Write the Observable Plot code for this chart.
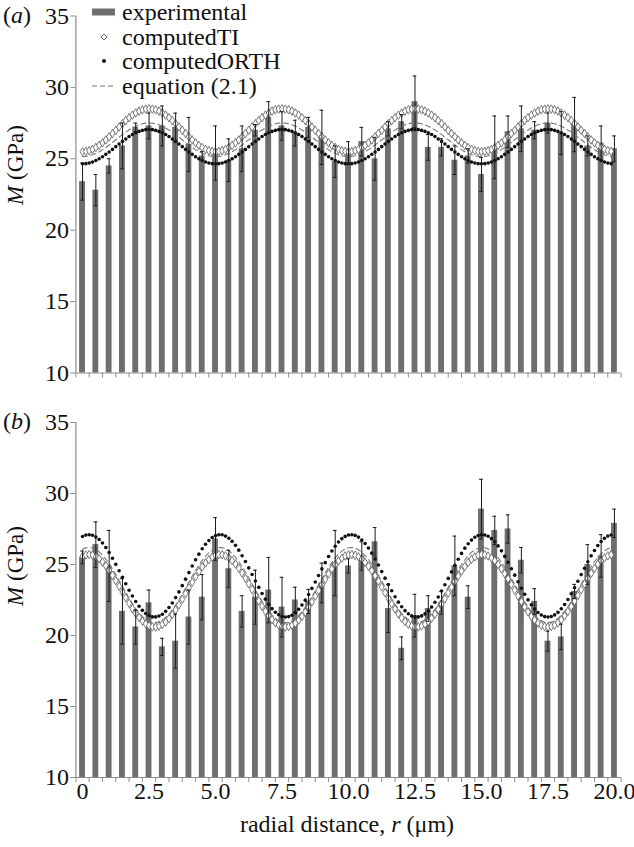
<!DOCTYPE html>
<html>
<head>
<meta charset="utf-8">
<script src="https://cdn.jsdelivr.net/npm/d3@7"></script>
<script src="https://cdn.jsdelivr.net/npm/@observablehq/plot@0.6"></script>
<style>
  body { margin: 0; background: #fff; }
  #fig { position: relative; width: 634px; height: 847px; font-family: "Liberation Serif", "Times New Roman", serif; color: #111; overflow: hidden; }
  .abs { position: absolute; white-space: nowrap; }
  .ylab { width: 140px; text-align: center; font-size: 23px; line-height: 24px; transform: rotate(-90deg); }
  .leg { font-size: 24px; line-height: 24.5px; }
  .leg .row { display: flex; align-items: center; height: 24.5px; }
  .leg svg { width: 30px; height: 14px; margin-right: 4px; }
</style>
</head>
<body>
<div id="fig">
  <div id="pa" class="abs" style="left:0;top:0"></div>
  <div id="pb" class="abs" style="left:0;top:390px"></div>
  <div class="abs" style="left:3px;top:2px;font-size:24px;line-height:26px">(<i>a</i>)</div>
  <div class="abs" style="left:3px;top:408px;font-size:24px;line-height:26px">(<i>b</i>)</div>
  <div class="abs ylab" style="left:-54px;top:153px"><i>M</i> (GPa)</div>
  <div class="abs ylab" style="left:-54px;top:554px"><i>M</i> (GPa)</div>
  <div class="abs" style="left:0;width:694px;top:810px;text-align:center;font-size:24px;line-height:28px">radial distance, <i>r</i> (μm)</div>
  <div class="abs leg" style="left:88px;top:0px">
    <div class="row"><svg viewBox="0 0 30 14"><rect x="4" y="3.5" width="23" height="7" fill="#6e6e6e"/></svg><span>experimental</span></div>
    <div class="row"><svg viewBox="0 0 30 14"><path d="M16 4 L19 7 L16 10 L13 7 Z" fill="white" stroke="#555" stroke-width="0.9"/></svg><span>computedTI</span></div>
    <div class="row"><svg viewBox="0 0 30 14"><circle cx="16" cy="7" r="2" fill="#111"/></svg><span>computedORTH</span></div>
    <div class="row"><svg viewBox="0 0 30 14"><line x1="4" y1="7" x2="27" y2="7" stroke="#777" stroke-width="1.2" stroke-dasharray="5,3"/></svg><span>equation (2.1)</span></div>
  </div>
</div>
<script>
// ---------- data ----------
const rBars = [0,0.5,1,1.5,2,2.5,3,3.5,4,4.5,5,5.5,6,6.5,7,7.5,8,8.5,9,9.5,10,10.5,11,11.5,12,12.5,13,13.5,14,14.5,15,15.5,16,16.5,17,17.5,18,18.5,19,19.5,20];

// panel (a) experimental mean and error
const expA = [23.4,22.8,24.5,25.9,27.2,27.3,27.3,27.2,26.0,25.2,25.4,24.9,25.7,27.0,27.9,27.3,26.8,27.2,26.5,24.8,25.4,26.2,25.0,27.1,27.6,29.0,25.8,25.8,24.9,25.2,23.9,25.8,26.9,27.1,27.0,27.5,26.8,27.4,25.9,26.1,25.7];
const errA = [1.3,1.1,0.5,1.6,0.3,0.9,1.4,1.0,1.9,0.3,1.9,1.5,1.6,0.4,1.1,1.0,0.9,0.7,1.9,1.1,0.8,1.0,1.5,0.5,0.5,1.8,0.9,0.6,1.0,0.5,1.2,2.2,1.1,1.6,0.6,0.7,1.5,1.9,0.7,1.2,0.9];

// panel (b) experimental mean and error
const expB = [25.5,26.4,24.9,21.7,20.6,22.3,19.2,19.6,21.3,22.7,26.8,24.7,21.7,22.7,23.2,22.0,22.5,22.4,23.7,25.1,24.9,25.6,26.6,21.9,19.1,21.4,21.9,22.3,24.9,22.7,28.9,27.4,27.5,25.3,22.4,19.6,19.9,23.1,25.0,25.6,27.9];
const errB = [0.45,1.6,2.5,2.3,1.2,0.9,0.6,1.9,1.9,1.6,1.5,1.3,1.1,1.9,2.3,2.1,0.9,0.85,1.4,2.3,0.5,1.0,1.0,1.7,0.8,1.5,0.9,0.8,2.1,0.8,2.1,1.0,1.0,0.9,0.9,0.7,0.9,0.5,1.4,1.5,1.0];

// curve sample positions (µm)
const rCurve = [0,0.125,0.25,0.375,0.5,0.625,0.75,0.875,1,1.125,1.25,1.375,1.5,1.625,1.75,1.875,2,2.125,2.25,2.375,2.5,2.625,2.75,2.875,3,3.125,3.25,3.375,3.5,3.625,3.75,3.875,4,4.125,4.25,4.375,4.5,4.625,4.75,4.875,
  5,5.125,5.25,5.375,5.5,5.625,5.75,5.875,6,6.125,6.25,6.375,6.5,6.625,6.75,6.875,7,7.125,7.25,7.375,7.5,7.625,7.75,7.875,8,8.125,8.25,8.375,8.5,8.625,8.75,8.875,9,9.125,9.25,9.375,9.5,9.625,9.75,9.875,
  10,10.125,10.25,10.375,10.5,10.625,10.75,10.875,11,11.125,11.25,11.375,11.5,11.625,11.75,11.875,12,12.125,12.25,12.375,12.5,12.625,12.75,12.875,13,13.125,13.25,13.375,13.5,13.625,13.75,13.875,14,14.125,14.25,14.375,14.5,14.625,14.75,14.875,
  15,15.125,15.25,15.375,15.5,15.625,15.75,15.875,16,16.125,16.25,16.375,16.5,16.625,16.75,16.875,17,17.125,17.25,17.375,17.5,17.625,17.75,17.875,18,18.125,18.25,18.375,18.5,18.625,18.75,18.875,19,19.125,19.25,19.375,19.5,19.625,19.75,19.875];

// panel (a) computed curves
const tiA = [25.50,25.52,25.57,25.66,25.79,25.94,26.12,26.32,26.54,26.77,27.00,27.23,27.46,27.68,27.88,28.06,28.21,28.34,28.43,28.48,28.50,28.48,28.43,28.34,28.21,28.06,27.88,27.68,27.46,27.23,27.00,26.77,26.54,26.32,26.12,25.94,25.79,25.66,25.57,25.52,
  25.50,25.52,25.57,25.66,25.79,25.94,26.12,26.32,26.54,26.77,27.00,27.23,27.46,27.68,27.88,28.06,28.21,28.34,28.43,28.48,28.50,28.48,28.43,28.34,28.21,28.06,27.88,27.68,27.46,27.23,27.00,26.77,26.54,26.32,26.12,25.94,25.79,25.66,25.57,25.52,
  25.50,25.52,25.57,25.66,25.79,25.94,26.12,26.32,26.54,26.77,27.00,27.23,27.46,27.68,27.88,28.06,28.21,28.34,28.43,28.48,28.50,28.48,28.43,28.34,28.21,28.06,27.88,27.68,27.46,27.23,27.00,26.77,26.54,26.32,26.12,25.94,25.79,25.66,25.57,25.52,
  25.50,25.52,25.57,25.66,25.79,25.94,26.12,26.32,26.54,26.77,27.00,27.23,27.46,27.68,27.88,28.06,28.21,28.34,28.43,28.48,28.50,28.48,28.43,28.34,28.21,28.06,27.88,27.68,27.46,27.23,27.00,26.77,26.54,26.32,26.12,25.94,25.79,25.66,25.57,25.52];
const orthA = [24.65,24.66,24.71,24.78,24.88,25.00,25.14,25.31,25.48,25.66,25.85,26.04,26.22,26.39,26.56,26.70,26.82,26.92,26.99,27.04,27.05,27.04,26.99,26.92,26.82,26.70,26.56,26.39,26.22,26.04,25.85,25.66,25.48,25.31,25.14,25.00,24.88,24.78,24.71,24.66,
  24.65,24.66,24.71,24.78,24.88,25.00,25.14,25.31,25.48,25.66,25.85,26.04,26.22,26.39,26.56,26.70,26.82,26.92,26.99,27.04,27.05,27.04,26.99,26.92,26.82,26.70,26.56,26.39,26.22,26.04,25.85,25.66,25.48,25.31,25.14,25.00,24.88,24.78,24.71,24.66,
  24.65,24.66,24.71,24.78,24.88,25.00,25.14,25.31,25.48,25.66,25.85,26.04,26.22,26.39,26.56,26.70,26.82,26.92,26.99,27.04,27.05,27.04,26.99,26.92,26.82,26.70,26.56,26.39,26.22,26.04,25.85,25.66,25.48,25.31,25.14,25.00,24.88,24.78,24.71,24.66,
  24.65,24.66,24.71,24.78,24.88,25.00,25.14,25.31,25.48,25.66,25.85,26.04,26.22,26.39,26.56,26.70,26.82,26.92,26.99,27.04,27.05,27.04,26.99,26.92,26.82,26.70,26.56,26.39,26.22,26.04,25.85,25.66,25.48,25.31,25.14,25.00,24.88,24.78,24.71,24.66];
const eqA = [25.15,25.16,25.21,25.28,25.38,25.50,25.64,25.79,25.97,26.15,26.33,26.51,26.69,26.87,27.02,27.16,27.28,27.38,27.45,27.50,27.51,27.50,27.45,27.38,27.28,27.16,27.02,26.87,26.69,26.51,26.33,26.15,25.97,25.79,25.64,25.50,25.38,25.28,25.21,25.16,
  25.15,25.16,25.21,25.28,25.38,25.50,25.64,25.79,25.97,26.15,26.33,26.51,26.69,26.87,27.02,27.16,27.28,27.38,27.45,27.50,27.51,27.50,27.45,27.38,27.28,27.16,27.02,26.87,26.69,26.51,26.33,26.15,25.97,25.79,25.64,25.50,25.38,25.28,25.21,25.16,
  25.15,25.16,25.21,25.28,25.38,25.50,25.64,25.79,25.97,26.15,26.33,26.51,26.69,26.87,27.02,27.16,27.28,27.38,27.45,27.50,27.51,27.50,27.45,27.38,27.28,27.16,27.02,26.87,26.69,26.51,26.33,26.15,25.97,25.79,25.64,25.50,25.38,25.28,25.21,25.16,
  25.15,25.16,25.21,25.28,25.38,25.50,25.64,25.79,25.97,26.15,26.33,26.51,26.69,26.87,27.02,27.16,27.28,27.38,27.45,27.50,27.51,27.50,27.45,27.38,27.28,27.16,27.02,26.87,26.69,26.51,26.33,26.15,25.97,25.79,25.64,25.50,25.38,25.28,25.21,25.16];

// panel (b) computed curves
const orthB = [26.97,27.07,27.10,27.06,26.94,26.76,26.51,26.20,25.84,25.44,25.01,24.56,24.10,23.64,23.19,22.78,22.39,22.06,21.77,21.55,21.40,21.31,21.31,21.37,21.50,21.70,21.97,22.29,22.67,23.07,23.51,23.97,24.43,24.89,25.33,25.73,26.11,26.43,26.69,26.90,
  27.03,27.09,27.09,27.00,26.85,26.63,26.35,26.01,25.62,25.21,24.76,24.30,23.84,23.39,22.96,22.56,22.20,21.89,21.64,21.46,21.34,21.30,21.33,21.43,21.61,21.85,22.15,22.49,22.89,23.32,23.77,24.23,24.69,25.13,25.56,25.95,26.29,26.58,26.82,26.98,
  27.08,27.10,27.05,26.93,26.73,26.48,26.16,25.80,25.39,24.96,24.50,24.04,23.59,23.15,22.73,22.35,22.02,21.75,21.53,21.38,21.31,21.31,21.38,21.52,21.73,22.01,22.34,22.71,23.13,23.57,24.02,24.48,24.94,25.37,25.78,26.15,26.46,26.72,26.92,27.04,
  27.10,27.08,26.99,26.82,26.60,26.31,25.96,25.57,25.15,24.70,24.25,23.79,23.33,22.91,22.51,22.16,21.86,21.62,21.44,21.33,21.30,21.34,21.45,21.63,21.88,22.18,22.54,22.94,23.37,23.82,24.29,24.74,25.19,25.61,25.99,26.33,26.62,26.84,27.00,27.08];
const tiB = [25.58,25.67,25.70,25.66,25.56,25.40,25.18,24.91,24.59,24.24,23.86,23.47,23.06,22.66,22.27,21.90,21.56,21.27,21.02,20.82,20.69,20.61,20.60,20.66,20.78,20.95,21.19,21.47,21.80,22.16,22.55,22.95,23.35,23.75,24.14,24.50,24.83,25.11,25.34,25.52,
  25.64,25.69,25.69,25.61,25.48,25.28,25.04,24.74,24.40,24.03,23.64,23.24,22.83,22.44,22.06,21.71,21.39,21.12,20.90,20.74,20.64,20.60,20.63,20.72,20.87,21.08,21.35,21.65,22.00,22.37,22.77,23.17,23.58,23.97,24.34,24.69,24.99,25.25,25.45,25.60,
  25.68,25.70,25.65,25.55,25.38,25.15,24.88,24.56,24.20,23.82,23.42,23.01,22.61,22.22,21.86,21.53,21.24,20.99,20.80,20.67,20.61,20.61,20.67,20.80,20.98,21.22,21.51,21.84,22.21,22.59,22.99,23.40,23.80,24.18,24.54,24.86,25.14,25.37,25.54,25.65,
  25.70,25.68,25.60,25.46,25.26,25.00,24.70,24.36,23.99,23.59,23.19,22.79,22.39,22.01,21.67,21.35,21.09,20.88,20.72,20.63,20.60,20.64,20.73,20.89,21.11,21.38,21.69,22.04,22.42,22.82,23.23,23.63,24.02,24.39,24.73,25.02,25.27,25.47,25.61,25.68];
const eqB = [26.08,26.17,26.20,26.16,26.06,25.89,25.66,25.38,25.05,24.69,24.29,23.88,23.46,23.04,22.63,22.25,21.90,21.59,21.33,21.13,20.99,20.91,20.91,20.96,21.09,21.27,21.51,21.81,22.15,22.52,22.92,23.34,23.76,24.18,24.58,24.95,25.29,25.59,25.83,26.01,
  26.14,26.19,26.19,26.11,25.97,25.77,25.51,25.20,24.85,24.47,24.06,23.64,23.22,22.81,22.41,22.05,21.72,21.44,21.21,21.04,20.94,20.90,20.93,21.02,21.18,21.40,21.67,21.99,22.35,22.74,23.15,23.57,23.98,24.40,24.79,25.15,25.46,25.73,25.94,26.09,
  26.18,26.20,26.15,26.04,25.86,25.63,25.34,25.01,24.64,24.24,23.83,23.41,22.99,22.59,22.21,21.86,21.56,21.31,21.11,20.98,20.91,20.91,20.97,21.10,21.30,21.55,21.85,22.19,22.57,22.97,23.39,23.81,24.23,24.62,24.99,25.33,25.62,25.86,26.03,26.15,
  26.20,26.18,26.10,25.95,25.74,25.48,25.16,24.81,24.42,24.01,23.59,23.17,22.76,22.37,22.01,21.68,21.41,21.19,21.03,20.93,20.90,20.94,21.04,21.20,21.43,21.71,22.03,22.40,22.79,23.20,23.63,24.05,24.45,24.84,25.19,25.50,25.76,25.96,26.11,26.18];

const yTicks = [10, 15, 20, 25, 30, 35];
const xLabelPos = [0, 2.5, 5, 7.5, 10, 12.5, 15, 17.5, 20];
const xTickLabels = ["0", "2.5", "5.0", "7.5", "10.0", "12.5", "15.0", "17.5", "20.0"];

// ---------- chart ----------
const halfStep = 0.25;            // half the spacing between measurement positions
const barHalf = 0.11;             // half bar width in µm
const capHalf = 0.07;
const boundaryTicks = [rBars[0] - halfStep, ...rBars.map(r => r + halfStep)];
const axisGray = "#8c8c8c";
const barGray = "#6e6e6e";
const serif = '"Liberation Serif", "Times New Roman", serif';

function panel(exp, err, ti, orth, eq, opts) {
  const bars = rBars.map((r, i) => ({r, m: exp[i], e: err[i]}));
  const tiD = rCurve.map((r, i) => ({r, m: ti[i]}));
  const orthD = rCurve.map((r, i) => ({r, m: orth[i]}));
  const eqD = rCurve.map((r, i) => ({r, m: eq[i]}));
  const marks = [
    Plot.rectY(bars, {x1: d => d.r - barHalf, x2: d => d.r + barHalf, y1: 10, y2: "m", fill: barGray}),
    Plot.line(eqD, {x: "r", y: "m", stroke: "#7a7a7a", strokeWidth: 1.1, strokeDasharray: "5,3.5"}),
    Plot.dot(tiD, {x: "r", y: "m", symbol: "diamond", r: 2.6, fill: "white", stroke: "#5a5a5a", strokeWidth: 0.8}),
    Plot.dot(orthD, {x: "r", y: "m", r: 1.8, fill: "#111", stroke: "none"}),
    Plot.ruleX(bars, {x: "r", y1: d => d.m - d.e, y2: d => d.m + d.e, stroke: "#1a1a1a", strokeWidth: 1}),
    Plot.ruleY(bars, {y: d => d.m + d.e, x1: d => d.r - capHalf, x2: d => d.r + capHalf, stroke: "#1a1a1a", strokeWidth: 1}),
    Plot.ruleY(bars, {y: d => d.m - d.e, x1: d => d.r - capHalf, x2: d => d.r + capHalf, stroke: "#1a1a1a", strokeWidth: 1}),
    Plot.ruleX([boundaryTicks[0]], {y1: 10, y2: 35, stroke: axisGray, strokeWidth: 1.2}),
    Plot.ruleY([10], {stroke: axisGray, strokeWidth: 1.2}),
    Plot.axisY(yTicks, {tickSize: 5, tickPadding: 2, stroke: axisGray, fill: "#111", fontSize: 24, label: null}),
    Plot.axisX(boundaryTicks, {tickSize: 5, stroke: axisGray, tickFormat: () => "", label: null})
  ];
  if (opts.labels) {
    marks.push(Plot.axisX(xLabelPos, {tickSize: 0, tickPadding: 4, fill: "#111", fontSize: 24, label: null,
      tickFormat: d => xTickLabels[xLabelPos.indexOf(d)]}));
  }
  return Plot.plot({
    width: 634,
    height: opts.height,
    marginLeft: 75.4,
    marginRight: 13.4,
    marginTop: opts.top,
    marginBottom: opts.bottom,
    x: {domain: [boundaryTicks[0], boundaryTicks[boundaryTicks.length - 1]]},
    y: {domain: [10, 35]},
    style: {fontFamily: serif, fontSize: "24px", background: "transparent", overflow: "visible"},
    marks
  });
}

document.getElementById("pa").appendChild(panel(expA, errA, tiA, orthA, eqA, {height: 390, top: 15.5, bottom: 17.5, labels: false}));
document.getElementById("pb").appendChild(panel(expB, errB, tiB, orthB, eqB, {height: 420, top: 32, bottom: 33, labels: true}));
</script>
</body>
</html>
